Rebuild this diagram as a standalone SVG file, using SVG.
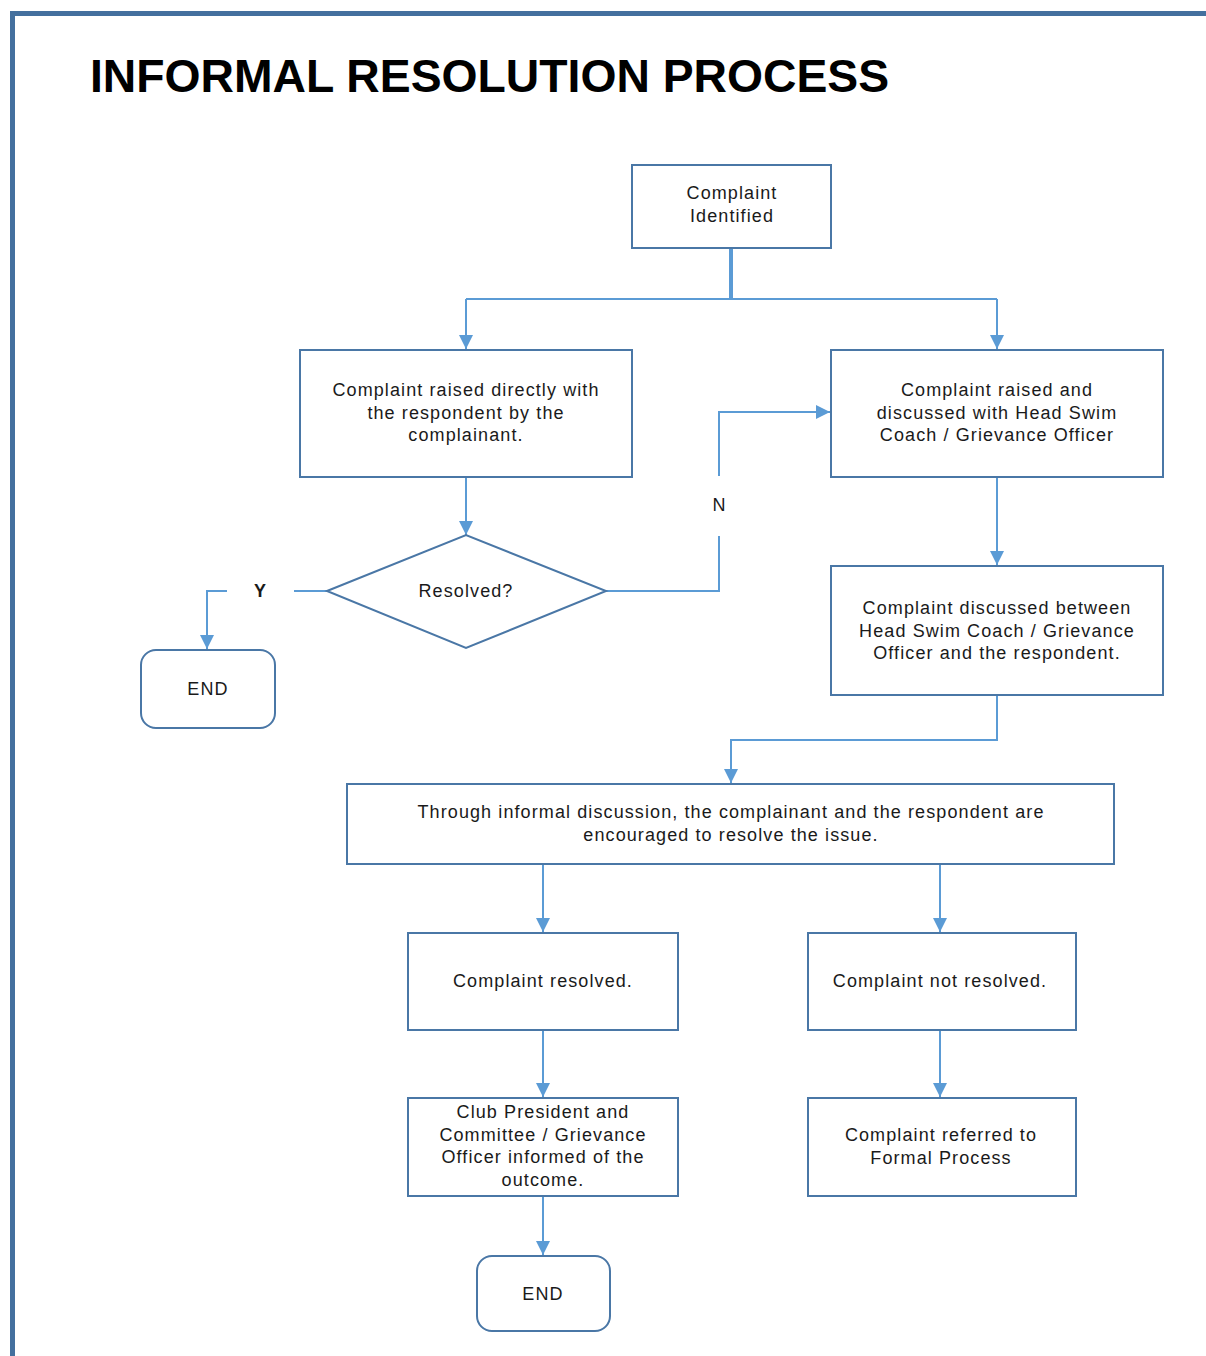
<svg xmlns="http://www.w3.org/2000/svg" width="1206" height="1356" viewBox="0 0 1206 1356" xml:space="preserve">
<defs>
<marker id="arr" markerUnits="userSpaceOnUse" markerWidth="14" markerHeight="14" viewBox="0 0 12 12" refX="12" refY="6" orient="auto">
<path d="M0,0 L12,6 L0,12 z" fill="#5b9bd5"/>
</marker>
<style>
.box{fill:#fff;stroke:#4a77a6;stroke-width:2}
.t{font-family:"Liberation Sans",Arial,sans-serif;font-size:18px;fill:#1a1a1a;text-anchor:middle;letter-spacing:1.1px}
.c{fill:none;stroke:#5b9bd5;stroke-width:2}
</style>
</defs>
<rect width="1206" height="1356" fill="#fff"/>
<path d="M12.5,1356 V13.5 H1206" fill="none" stroke="#44709e" stroke-width="5"/>
<text x="90" y="92" font-family="Liberation Sans,Arial,sans-serif" font-weight="bold" font-size="46.3" fill="#000">INFORMAL RESOLUTION PROCESS</text>
<g id="connectors">
<path d="M731,248 V299" fill="none" stroke="#5b9bd5" stroke-width="4"/>
<path class="c" d="M466,299 H997"/>
<path class="c" d="M466,299 V349" marker-end="url(#arr)"/>
<path class="c" d="M997,299 V349" marker-end="url(#arr)"/>
<path class="c" d="M466,477 V535" marker-end="url(#arr)"/>
<path class="c" d="M327,591 H294"/>
<path class="c" d="M227,591 H207 V649" marker-end="url(#arr)"/>
<path class="c" d="M606,591 H719 V536"/>
<path class="c" d="M719,476 V412 H830" marker-end="url(#arr)"/>
<path class="c" d="M997,477 V565" marker-end="url(#arr)"/>
<path class="c" d="M997,695 V740 H731 V783" marker-end="url(#arr)"/>
<path class="c" d="M543,864 V932" marker-end="url(#arr)"/>
<path class="c" d="M940,864 V932" marker-end="url(#arr)"/>
<path class="c" d="M543,1030 V1097" marker-end="url(#arr)"/>
<path class="c" d="M940,1026 V1097" marker-end="url(#arr)"/>
<path class="c" d="M543,1196 V1255" marker-end="url(#arr)"/>
<text x="260" y="597" font-family="Liberation Sans,Arial,sans-serif" font-weight="bold" font-size="18" fill="#1a1a1a" text-anchor="middle">Y</text>
<text x="719" y="511" font-family="Liberation Sans,Arial,sans-serif" font-size="18" fill="#1a1a1a" text-anchor="middle">N</text>
</g>
<g id="n-identified">
<rect class="box" x="632" y="165" width="199" height="83"/>
<text class="t" x="732" y="199">Complaint</text>
<text class="t" x="732" y="222">Identified</text>
</g>
<g id="n-direct">
<rect class="box" x="300" y="350" width="332" height="127"/>
<text class="t" x="466" y="396">Complaint  raised directly with</text>
<text class="t" x="466" y="419">the respondent by the</text>
<text class="t" x="466" y="441">complainant.</text>
</g>
<g id="n-headcoach">
<rect class="box" x="831" y="350" width="332" height="127"/>
<text class="t" x="997" y="396">Complaint  raised and</text>
<text class="t" x="997" y="419">discussed with Head Swim</text>
<text class="t" x="997" y="441">Coach / Grievance Officer</text>
</g>
<g id="n-resolved-q">
<polygon class="box" points="327,591 466,535 606,591 466,648"/>
<text class="t" x="466" y="597">Resolved?</text>
</g>
<g id="n-end1">
<rect class="box" x="141" y="650" width="134" height="78" rx="15"/>
<text class="t" x="208" y="695">END</text>
</g>
<g id="n-discussed">
<rect class="box" x="831" y="566" width="332" height="129"/>
<text class="t" x="997" y="614">Complaint  discussed between</text>
<text class="t" x="997" y="637">Head  Swim Coach / Grievance</text>
<text class="t" x="997" y="659">Officer and the respondent.</text>
</g>
<g id="n-informal">
<rect class="box" x="347" y="784" width="767" height="80"/>
<text class="t" x="731" y="818">Through informal discussion, the complainant  and the respondent are</text>
<text class="t" x="731" y="841">encouraged to resolve the issue.</text>
</g>
<g id="n-resolved">
<rect class="box" x="408" y="933" width="270" height="97"/>
<text class="t" x="543" y="987">Complaint  resolved.</text>
</g>
<g id="n-notresolved">
<rect class="box" x="808" y="933" width="268" height="97"/>
<text class="t" x="940" y="987">Complaint  not resolved.</text>
</g>
<g id="n-informed">
<rect class="box" x="408" y="1098" width="270" height="98"/>
<text class="t" x="543" y="1118">Club  President and</text>
<text class="t" x="543" y="1141">Committee  / Grievance</text>
<text class="t" x="543" y="1163">Officer informed of the</text>
<text class="t" x="543" y="1186">outcome.</text>
</g>
<g id="n-formal">
<rect class="box" x="808" y="1098" width="268" height="98"/>
<text class="t" x="941" y="1141">Complaint  referred to</text>
<text class="t" x="941" y="1164">Formal Process</text>
</g>
<g id="n-end2">
<rect class="box" x="477" y="1256" width="133" height="75" rx="15"/>
<text class="t" x="543" y="1300">END</text>
</g>
</svg>
